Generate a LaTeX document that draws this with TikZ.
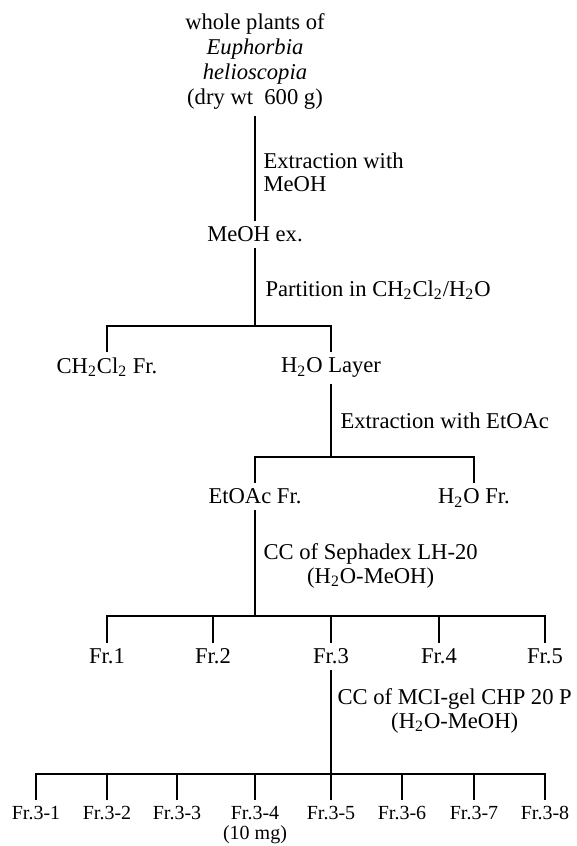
\documentclass[tikz,border=0pt]{standalone}
\usepackage{fontspec}
\setmainfont{Liberation Serif}
\usepackage{tikz}

\newcommand*{\dn}[1]{\textsubscript{#1}}

\begin{document}
\begin{tikzpicture}[x=0.5pt, y=-0.5pt, line width=0.6pt,
    every node/.style={font=\fontsize{11.3}{12.5}\selectfont, inner sep=0pt},
    frac/.style={anchor=north, outer sep=3pt},
    subfrac/.style={frac, align=center, font=\fontsize{10}{10}\selectfont},
    note/.style={anchor=north west, align=left, font=\fontsize{11.3}{11.8}\selectfont}]
    \useasboundingbox (0, 0) rectangle (577, 846); % page size

    % fractions
    \node[frac, align=center] (plants) at (255, 8) {whole plants of\\\textit{Euphorbia}\\\textit{helioscopia}\\(dry wt\ \ 600 g)};
    \node[frac] (meoh) at (255, 221) {MeOH ex.};
    \node[frac] (chcl) at (107, 352) {CH\dn{2}Cl\dn{2} Fr.};
    \node[frac] (layer) at (331, 352) {H\dn{2}O Layer};
    \node[frac] (etoac) at (255, 483) {EtOAc Fr.};
    \node[frac] (water) at (474, 483) {H\dn{2}O Fr.};
    \foreach \x [count=\i] in {107, 213, 331, 439, 545}
        \node[frac] (fr\i) at (\x, 643) {Fr.\i};
    \foreach \x [count=\i] in {36, 107, 177, 255, 331, 402, 474, 545}
        \node[subfrac] (f3\i) at (\x, 800) {Fr.3-\i\ifnum\i=4 \\(10 mg)\fi};

    % steps
    \node[note] (ext) at (263, 152) {Extraction with\\MeOH};
    \node[note] (part) at (265, 280) {Partition in CH\dn{2}Cl\dn{2}/H\dn{2}O};
    \node[note] (ext2) at (340, 412) {Extraction with EtOAc};
    \node[note, align=center] (seph) at (263, 543) {CC of Sephadex LH-20\\(H\dn{2}O-MeOH)};
    \node[note, align=center] (mci) at (337, 688) {CC of MCI-gel CHP 20 P\\(H\dn{2}O-MeOH)};

    % branch points
    \coordinate (j1) at (255, 326);
    \coordinate (j2) at (331, 457);
    \coordinate (j3) at (255, 616);
    \coordinate (j4) at (331, 774);

    \draw (plants.south) -- (meoh.north);
    \draw (meoh.south) -- (j1);
    \draw (chcl.north) |- (j1) -| (layer.north);
    \draw (layer.south) -- (j2);
    \draw (etoac.north) |- (j2) -| (water.north);
    \draw (etoac.south) -- (j3);
    \draw (fr1.north) |- (j3) -| (fr5.north);
    \foreach \i in {2, 3, 4}
        \draw (fr\i.north) -- (fr\i.north |- j3);
    \draw (fr3.south) -- (j4);
    \draw (f31.north) |- (j4) -| (f38.north);
    \foreach \i in {2, ..., 7}
        \draw (f3\i.north) -- (f3\i.north |- j4);
\end{tikzpicture}
\end{document}
